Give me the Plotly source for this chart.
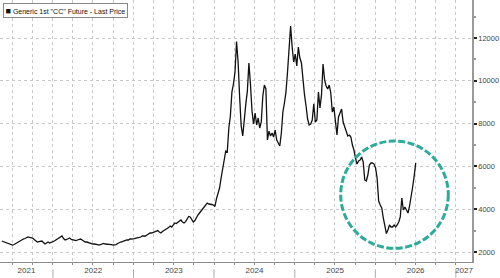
import pandas as pd
import plotly.graph_objects as go

# Weekly closes, Generic 1st "CC" Future
start_date = "2021-05-14"
prices = [
    2514, 2490, 2467, 2421, 2400, 2374, 2350, 2327, 2350, 2400,
    2421, 2490, 2514, 2585, 2607, 2630, 2654, 2701, 2680, 2654,
    2654, 2585, 2514, 2467, 2490, 2514, 2514, 2445, 2374, 2421,
    2467, 2421, 2445, 2467, 2514, 2561, 2607, 2630, 2680, 2748,
    2630, 2561, 2585, 2607, 2654, 2585, 2561, 2561, 2537, 2561,
    2585, 2607, 2561, 2514, 2467, 2467, 2445, 2421, 2374, 2374,
    2374, 2374, 2350, 2327, 2350, 2400, 2400, 2374, 2374, 2374,
    2374, 2350, 2327, 2327, 2350, 2400, 2445, 2467, 2490, 2514,
    2561, 2561, 2561, 2607, 2607, 2607, 2630, 2654, 2654, 2680,
    2701, 2748, 2748, 2748, 2794, 2840, 2888, 2888, 2910, 2935,
    2980, 3000, 2935, 2888, 2960, 3000, 3050, 3075, 3140, 3215,
    3168, 3260, 3355, 3330, 3380, 3449, 3495, 3402, 3355, 3420,
    3542, 3660, 3636, 3542, 3402, 3470, 3636, 3729, 3822, 3916,
    4030, 4103, 4170, 4290, 4243, 4243, 4220, 4196, 4130, 4480,
    4757, 4991, 5458, 5925, 6206, 6720, 6673, 7795, 8355, 9480,
    9850, 10410, 11830, 10879, 9243, 7888, 7420, 8308, 8920, 9520,
    10830, 9850, 8590, 7980, 8495, 7935, 8262, 7795, 8075, 9290,
    9804, 9620, 7234, 7650, 7420, 7561, 7374, 7701, 7234, 7094,
    6955, 7561, 8542, 8963, 9480, 10410, 11626, 12560, 11580, 10879,
    11250, 10690, 11580, 11066, 10832, 9850, 9339, 8823, 8215, 7935,
    7980, 8168, 8920, 8075, 8168, 9480, 8729, 9339, 10785, 10038,
    9757, 9620, 9804, 9430, 8542, 8776, 8120, 7467, 8308, 8542,
    8680, 8075, 7841, 7608, 7420, 7467, 7374, 7000, 6766, 6393,
    6110, 6253, 6299, 6440, 6206, 5365, 5318, 5598, 6066, 6159,
    6159, 6110, 5925, 5458, 4383, 4196, 4056, 3589, 3215, 2860,
    3028, 3262, 3168, 3168, 3262, 3168, 3262, 3402, 3636, 4523,
    3963, 4103, 3963, 3822, 4150, 4523, 5038, 5550, 6159,
]
dates = pd.date_range(start_date, periods=len(prices), freq="7D")

series_name = 'Generic 1st "CC" Future - Last Price'
years = [2021, 2022, 2023, 2024, 2025, 2026, 2027]
y_ticks = [2000, 4000, 6000, 8000, 10000, 12000]

x_range = ["2021-05-06", "2027-03-15"]
y_range = [1533, 13776]

# year labels centred in the visible part of each year
r0, r1 = pd.Timestamp(x_range[0]), pd.Timestamp(x_range[1])
label_pos, label_txt = [], []
for yr in years:
    a = max(pd.Timestamp(f"{yr}-01-01"), r0)
    b = min(pd.Timestamp(f"{yr + 1}-01-01"), r1)
    label_pos.append(a + (b - a) / 2)
    label_txt.append(str(yr))

fig = go.Figure()
fig.add_trace(go.Scatter(
    x=dates, y=prices, mode="lines",
    line=dict(color="#111111", width=1.3),
    showlegend=False, hoverinfo="skip",
))

grid_col = "#c9c9c9"
fig.update_xaxes(
    range=x_range, type="date",
    tickvals=label_pos, ticktext=label_txt,
    ticks="", showgrid=False,
    showline=True, linecolor="#8a8a8a", linewidth=1,
    tickfont=dict(family="Liberation Sans, Arial", size=8, color="#444444"),
    minor=dict(dtick="M3", tick0="2021-01-01", showgrid=True,
               gridcolor=grid_col, griddash="dot", gridwidth=1,
               ticks="outside", ticklen=2, tickcolor="#8a8a8a"),
    zeroline=False, fixedrange=True,
)
fig.update_yaxes(
    range=y_range, side="right", tickvals=y_ticks, tickformat="d",
    ticks="outside", ticklen=3, tickwidth=1.5, tickcolor="#222222",
    showgrid=True, gridcolor=grid_col, griddash="dot", gridwidth=1,
    showline=True, linecolor="#9a9a9a", linewidth=1.5,
    tickfont=dict(family="Liberation Sans, Arial", size=7.5, color="#444444"),
    minor=dict(dtick=1000, tick0=1000, ticks="outside", ticklen=2,
               tickcolor="#9a9a9a", showgrid=False),
    zeroline=False, fixedrange=True,
)

shapes = []
# year separators below the axis
for yr in years[1:]:
    d = f"{yr}-01-01"
    shapes.append(dict(type="line", xref="x", yref="paper", x0=d, x1=d,
                       y0=-0.028, y1=-0.06, line=dict(color="#aaaaaa", width=1)))
# highlight circle
shapes.append(dict(type="circle", xref="paper", yref="paper",
                   x0=0.7218, x1=0.9498, y0=0.0523, y1=0.4618,
                   line=dict(color="#2cab9a", width=3, dash="7px,2.5px")))

fig.update_layout(
    width=500, height=278,
    margin=dict(l=0, r=28, t=0, b=16),
    paper_bgcolor="white", plot_bgcolor="white",
    shapes=shapes,
    annotations=[dict(
        xref="paper", yref="paper", x=0.006, y=0.988,
        xanchor="left", yanchor="top", showarrow=False,
        text="<span style='font-size:9px'>■</span> " + series_name,
        font=dict(family="Liberation Sans, Arial", size=7, color="#111111"),
        bordercolor="#888888", borderwidth=1, borderpad=1.5,
        bgcolor="white",
    )],
)

fig.write_html("out.html")
